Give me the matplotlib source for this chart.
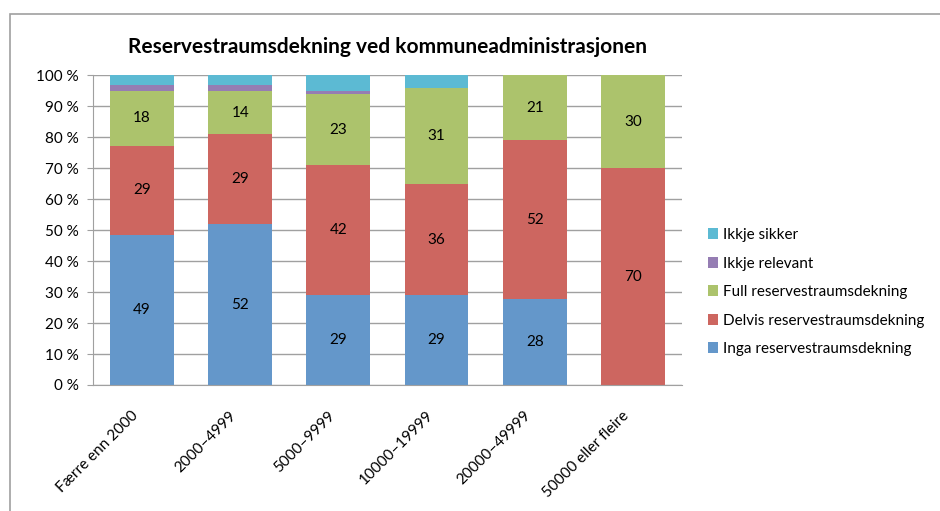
import numpy as np
import matplotlib.pyplot as plt
from matplotlib.patches import Rectangle
from matplotlib.transforms import ScaledTranslation

plt.rcParams['font.family'] = ['Lato', 'DejaVu Sans']

categories = ['Færre enn 2000', '2000–4999', '5000–9999', '10000–19999', '20000–49999', '50000 eller fleire']
inga = [49, 52, 29, 29, 28, 0]
delvis = [29, 29, 42, 36, 52, 70]
full = [18, 14, 23, 31, 21, 30]
relevant = [2, 2, 1, 0, 0, 0]
sikker = [3, 3, 5, 4, 0, 0]

series = [('Inga reservestraumsdekning', inga, '#6497CA', True),
          ('Delvis reservestraumsdekning', delvis, '#CD6660', True),
          ('Full reservestraumsdekning', full, '#ACC36C', True),
          ('Ikkje relevant', relevant, '#957DB3', False),
          ('Ikkje sikker', sikker, '#5CBAD3', False)]

fig = plt.figure(figsize=(9.4, 5.11), dpi=100)
ax = fig.add_axes([0.0989, 0.2466, 0.6266, 0.6057])

# outer frame like the excel chart area (runs off the right and bottom edge)
fig.add_artist(Rectangle((9.5/940, -0.1), 1.1, 1.1 - 14/511, transform=fig.transFigure,
                         fill=False, edgecolor='#A0A0A0', lw=1.2))

x = np.arange(len(categories))
totals = np.sum([s[1] for s in series], axis=0)
bottom = np.zeros(len(categories))
handles = []
for name, vals, col, show in series:
    pct = np.array(vals) / totals * 100
    b = ax.bar(x, pct, 0.65, bottom=bottom, color=col, label=name, zorder=2)
    handles.append(b)
    if show:
        for xi, v, p, bt in zip(x, vals, pct, bottom):
            if v > 0:
                ax.text(xi, bt + p / 2, str(v), ha='center', va='center', fontsize=11, color='black', zorder=3)
    bottom += pct

ax.set_xlim(-0.5, len(categories) - 0.5)
ax.set_ylim(0, 100)
ax.set_yticks(range(0, 101, 10))
ax.set_yticklabels([f'{t} %' for t in range(0, 101, 10)], fontsize=11)
ax.set_xticks(x)
ax.set_xticklabels(categories, rotation=45, ha='right', rotation_mode='anchor', fontsize=11)
ax.tick_params(axis='x', length=0, pad=17)
# shift rotated labels a bit left, like excel does
for lbl in ax.get_xticklabels():
    lbl.set_transform(lbl.get_transform() + ScaledTranslation(-0.11, 0, fig.dpi_scale_trans))
ax.tick_params(axis='y', length=4, color='#A0A0A0', pad=6)
ax.yaxis.grid(True, color='#A0A0A0', lw=1, zorder=0)
for sp in ['top', 'right']:
    ax.spines[sp].set_visible(False)
for sp in ['left', 'bottom']:
    ax.spines[sp].set_color('#A0A0A0')

ax.set_title('Reservestraumsdekning ved kommuneadministrasjonen', fontsize=15, fontweight='bold', pad=16)

ax.legend(handles[::-1], [s[0] for s in series][::-1], loc='center left', bbox_to_anchor=(1.02, 0.30),
          frameon=False, fontsize=11, handlelength=0.7, handleheight=0.7, handletextpad=0.3,
          labelspacing=0.95)

fig.savefig('out.png', dpi=100)
